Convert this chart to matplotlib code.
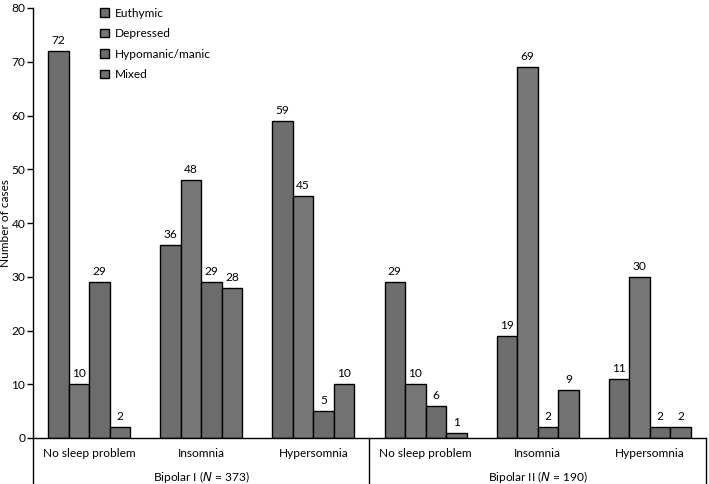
import matplotlib
matplotlib.use('Agg')
from matplotlib import pyplot as plt
import numpy as np

plt.rcParams['font.family'] = ['Lato', 'DejaVu Sans']

# data
groups = ['Bipolar I', 'Bipolar II']
group_n = [373, 190]
sleep = ['No sleep problem', 'Insomnia', 'Hypersomnia']
states = ['Euthymic', 'Depressed', 'Hypomanic/manic', 'Mixed']
euthymic = [72, 36, 59, 29, 19, 11]
depressed = [10, 48, 45, 10, 69, 30]
hypomanic = [29, 29, 5, 6, 2, 2]
mixed = [2, 28, 10, 1, 9, 2]
colors = ['#6e6e6e', '#777777', '#6c6c6c', '#727272']

series = [euthymic, depressed, hypomanic, mixed]
fs = 8.6

fig = plt.figure(figsize=(7.09, 4.84), dpi=100)
ax = fig.add_axes([33/709, 46/484, 673/709, 430/484])

x = np.arange(len(euthymic))
w = 0.183
for k, vals in enumerate(series):
    pos = x + (k - 1.5) * w
    bars = ax.bar(pos, vals, w, color=colors[k], edgecolor='black',
                  linewidth=1.0, label=states[k], zorder=2)
    for b, v in zip(bars, vals):
        ax.annotate(str(v), (b.get_x() + b.get_width()/2, v),
                    xytext=(0, 3.5), textcoords='offset points',
                    ha='center', va='bottom', fontsize=fs)

ax.set_xlim(-0.5, 5.5)
ax.set_ylim(0, 80)
ax.set_yticks(range(0, 81, 10))
ax.tick_params(axis='y', labelsize=fs, length=4, width=1, pad=1.5)
ax.set_xticks([])
ax.set_ylabel('Number of cases', fontsize=fs)
ax.yaxis.set_label_coords(-0.0325, 0.5)

for s in ['top', 'right', 'left']:
    ax.spines[s].set_visible(False)
ax.spines['bottom'].set_linewidth(1)

# vertical lines running down past the axis
trans = ax.get_xaxis_transform()
for xv in [-0.5, 2.5, 5.5]:
    top = 1.0 if xv == -0.5 else 0.0
    ax.plot([xv, xv], [-0.11, top], color='black', lw=1,
            transform=trans, clip_on=False)

labels = sleep * 2
for i, lab in enumerate(labels):
    ax.text(i, -0.035, lab, transform=trans, ha='center', va='center',
            fontsize=fs)
for g, (name, n) in enumerate(zip(groups, group_n)):
    ax.text(1 + 3*g, -0.09, name + ' ($\\mathit{N}$ = ' + str(n) + ')',
            transform=trans, ha='center', va='center', fontsize=fs)

ax.legend(loc='upper left', bbox_to_anchor=(0.093, 1.012), frameon=False,
          fontsize=fs, handlelength=0.7, handleheight=0.7,
          handletextpad=0.5, labelspacing=0.8, borderaxespad=0.0)

fig.savefig('out.png', dpi=100)
